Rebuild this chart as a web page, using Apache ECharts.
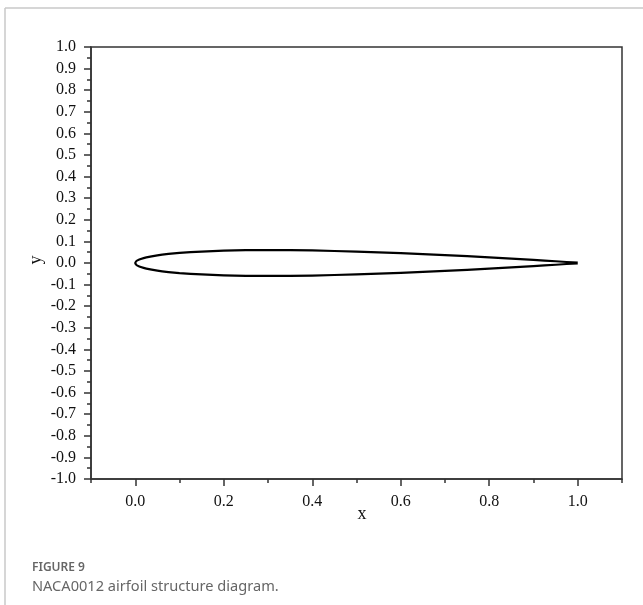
<!DOCTYPE html>
<html>
<head>
<meta charset="utf-8">
<script src="https://cdn.jsdelivr.net/npm/echarts@6/dist/echarts.min.js"></script>
<style>
html,body{margin:0;padding:0;background:#fff;}
#c{width:643px;height:605px;}
</style>
</head>
<body>
<div id="c"></div>
<script>
// NACA0012 section coordinates (chordwise x, upper and lower surface y)
const airfoilX = [0, 0.0025, 0.005, 0.0125, 0.025, 0.05, 0.075, 0.1, 0.15, 0.2, 0.25, 0.3, 0.4, 0.5, 0.6, 0.7, 0.8, 0.9, 0.95, 1.0];
const upperY = [0, 0.0087, 0.0122, 0.0189, 0.0261, 0.0355, 0.0420, 0.0468, 0.0529, 0.0574, 0.0594, 0.0600, 0.0580, 0.0529, 0.0456, 0.0366, 0.0262, 0.0145, 0.0081, 0.0013];
const lowerY = [0, -0.0087, -0.0122, -0.0189, -0.0261, -0.0355, -0.0420, -0.0468, -0.0529, -0.0574, -0.0594, -0.0600, -0.0580, -0.0529, -0.0456, -0.0366, -0.0262, -0.0145, -0.0081, -0.0013];

// axis ticks
const xMajorTicks = [0, 0.2, 0.4, 0.6, 0.8, 1.0];
const xMinorTicks = [-0.1, 0.1, 0.3, 0.5, 0.7, 0.9, 1.1];
const xName = 'x';
const yName = 'y';
const figLabel = 'FIGURE 9';
const figCaption = 'NACA0012 airfoil structure diagram.';

// closed outline: upper surface TE -> LE, then lower surface LE -> TE
const outline = [];
for (let i = airfoilX.length - 1; i >= 0; i--) outline.push([airfoilX[i], upperY[i]]);
for (let i = 1; i < airfoilX.length; i++) outline.push([airfoilX[i], lowerY[i]]);

const serif = 'Liberation Serif, Times New Roman, serif';
const axisColor = '#333';
const fmt = v => (Math.abs(v) < 1e-9 ? 0 : v).toFixed(1);

const chart = echarts.init(document.getElementById('c'), null, {renderer: 'canvas'});
chart.setOption({
  animation: false,
  backgroundColor: '#fff',
  grid: {left: 91, top: 47, right: 21, bottom: 126, show: true, borderColor: axisColor, borderWidth: 1.5, containLabel: false},
  xAxis: [{
    type: 'value', min: -0.1, max: 1.1, interval: 0.1, position: 'bottom',
    axisLine: {show: true, onZero: false, lineStyle: {color: axisColor, width: 1.5}},
    axisTick: {show: true, length: 7, inside: false, customValues: xMajorTicks, lineStyle: {color: axisColor, width: 1.5}},
    axisLabel: {show: true, margin: 15, customValues: xMajorTicks, fontFamily: serif, fontSize: 16, color: '#111', formatter: fmt},
    splitLine: {show: false}
  }, {
    type: 'value', min: -0.1, max: 1.1, interval: 0.1, position: 'bottom',
    axisLine: {show: false, onZero: false},
    axisTick: {show: true, length: 4, inside: false, customValues: xMinorTicks, lineStyle: {color: axisColor, width: 1.5}},
    axisLabel: {show: false},
    splitLine: {show: false}
  }],
  yAxis: {
    type: 'value', min: -1, max: 1, interval: 0.1, position: 'left',
    axisLine: {show: true, onZero: false, lineStyle: {color: axisColor, width: 1.5}},
    axisTick: {show: true, length: 7, inside: false, lineStyle: {color: axisColor, width: 1.5}},
    minorTick: {show: true, splitNumber: 2, length: 4, lineStyle: {color: axisColor, width: 1.5}},
    axisLabel: {show: true, margin: 15, fontFamily: serif, fontSize: 16, color: '#111', formatter: fmt},
    splitLine: {show: false}
  },
  series: [{
    type: 'line', xAxisIndex: 0, yAxisIndex: 0,
    data: outline, showSymbol: false, smooth: 0.12,
    lineStyle: {color: '#000', width: 2.2, join: 'round'},
    z: 5
  }],
  graphic: [
    {type: 'line', shape: {x1: 5, y1: 8, x2: 643, y2: 8}, style: {stroke: '#c8c8c8', lineWidth: 1.5}, silent: true},
    {type: 'line', shape: {x1: 5, y1: 8, x2: 5, y2: 605}, style: {stroke: '#c8c8c8', lineWidth: 1.5}, silent: true},
    {type: 'text', x: 362, y: 514, style: {text: xName, font: '18px ' + serif, fill: '#111', textAlign: 'center', textVerticalAlign: 'middle'}},
    {type: 'text', x: 36, y: 260, rotation: Math.PI / 2, style: {text: yName, font: '18px ' + serif, fill: '#111', textAlign: 'center', textVerticalAlign: 'middle'}},
    {type: 'text', x: 32, y: 568, style: {text: figLabel, font: '600 12px "Noto Sans", sans-serif', fill: '#666', textVerticalAlign: 'middle'}},
    {type: 'text', x: 32, y: 587, style: {text: figCaption, font: '14.6px "Noto Sans", sans-serif', fill: '#666', textVerticalAlign: 'middle'}}
  ]
});
</script>
</body>
</html>
